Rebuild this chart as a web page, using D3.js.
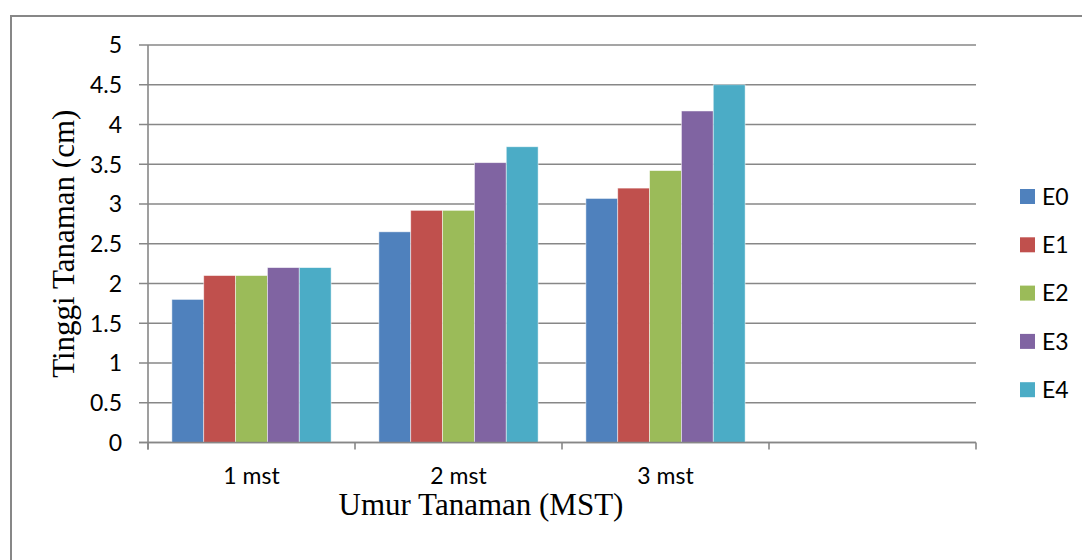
<!DOCTYPE html>
<html>
<head>
<meta charset="utf-8">
<script src="https://cdn.jsdelivr.net/npm/d3@7"></script>
<style>
  html, body { margin: 0; padding: 0; background: #fff; }
  svg { display: block; }
</style>
</head>
<body>
<svg id="chart" width="1082" height="560"></svg>
<script>
const categories = ["1 mst", "2 mst", "3 mst", ""];
const seriesNames = ["E0", "E1", "E2", "E3", "E4"];
const E0 = [1.8, 2.65, 3.07];
const E1 = [2.1, 2.92, 3.2];
const E2 = [2.1, 2.92, 3.42];
const E3 = [2.2, 3.52, 4.17];
const E4 = [2.2, 3.72, 4.5];
const yTicks = [0, 0.5, 1, 1.5, 2, 2.5, 3, 3.5, 4, 4.5, 5];
const colors = ["#4F81BD", "#C0504D", "#9BBB59", "#8064A2", "#4BACC6"];
const yTitle = "Tinggi Tanaman (cm)";
const xTitle = "Umur Tanaman (MST)";

(function () {
const seriesValues = [E0, E1, E2, E3, E4];
const svg = d3.select("#chart");
const grid = "#878787";

// outer frame
svg.append("rect").attr("x", 11).attr("y", 16).attr("width", 1200).attr("height", 700)
  .attr("fill", "none").attr("stroke", grid).attr("stroke-width", 2);

const pLeft = 148, pRight = 976, pTop = 45, pBottom = 442.5;
const x = d3.scaleBand().domain(d3.range(categories.length)).range([pLeft, pRight]).paddingInner(0).paddingOuter(0);
const x1 = d3.scaleBand().domain(seriesNames).range([0, x.bandwidth()]).paddingOuter(0.75).paddingInner(0);
const y = d3.scaleLinear().domain([0, 5]).range([pBottom, pTop]);

// gridlines
svg.append("g").selectAll("line").data(yTicks).join("line")
  .attr("x1", pLeft - 9).attr("x2", pRight)
  .attr("y1", d => y(d)).attr("y2", d => y(d))
  .attr("stroke", grid).attr("stroke-width", 1.6);

// y tick labels
svg.append("g").selectAll("text").data(yTicks).join("text")
  .attr("x", pLeft - 26).attr("y", d => y(d)).attr("dy", "0.36em")
  .attr("text-anchor", "end")
  .attr("font-family", "Lato, 'Open Sans', sans-serif").attr("font-size", 23)
  .attr("fill", "#000").text(d => d3.format("")(d));

// bars
const data = [];
seriesValues.forEach((vals, si) => vals.forEach((v, ci) => data.push({ s: seriesNames[si], si, ci, v })));
svg.append("g").selectAll("rect").data(data).join("rect")
  .attr("x", d => x(d.ci) + x1(d.s))
  .attr("width", x1.bandwidth())
  .attr("y", d => y(d.v))
  .attr("height", d => y(0) - y(d.v))
  .attr("fill", d => colors[d.si])
  .attr("stroke", "rgba(255,255,255,0.6)").attr("stroke-width", 0.8);

// axes lines
svg.append("line").attr("x1", pLeft).attr("x2", pLeft).attr("y1", pTop).attr("y2", pBottom + 7)
  .attr("stroke", grid).attr("stroke-width", 1.6);
svg.append("line").attr("x1", pLeft - 9).attr("x2", pRight).attr("y1", pBottom).attr("y2", pBottom)
  .attr("stroke", grid).attr("stroke-width", 1.6);
// category ticks
const tickPos = d3.range(categories.length + 1).map(i => i < categories.length ? x(i) : pRight);
svg.append("g").selectAll("line").data(tickPos).join("line")
  .attr("x1", d => d).attr("x2", d => d).attr("y1", pBottom).attr("y2", pBottom + 7)
  .attr("stroke", grid).attr("stroke-width", 1.6);

// category labels
svg.append("g").selectAll("text").data(categories).join("text")
  .attr("x", (d, i) => x(i) + x.bandwidth() / 2).attr("y", 484)
  .attr("text-anchor", "middle")
  .attr("font-family", "Lato, 'Open Sans', sans-serif").attr("font-size", 23)
  .attr("fill", "#000").text(d => d);

// axis titles
svg.append("text").attr("x", 481).attr("y", 515).attr("text-anchor", "middle")
  .attr("font-family", "'Liberation Serif', 'Times New Roman', serif").attr("font-size", 31)
  .attr("fill", "#000").text(xTitle);
svg.append("text").attr("transform", `translate(74,${(pTop + pBottom) / 2}) rotate(-90)`)
  .attr("text-anchor", "middle")
  .attr("font-family", "'Liberation Serif', 'Times New Roman', serif").attr("font-size", 31)
  .attr("fill", "#000").text(yTitle);

// legend
const lg = svg.append("g").selectAll("g").data(seriesNames).join("g")
  .attr("transform", (d, i) => `translate(1020,${196.5 + i * 48.3})`);
lg.append("rect").attr("x", 0).attr("y", -7.5).attr("width", 15).attr("height", 15)
  .attr("fill", (d, i) => colors[i]);
lg.append("text").attr("x", 22).attr("y", 0).attr("dy", "0.36em")
  .attr("font-family", "Lato, 'Open Sans', sans-serif").attr("font-size", 23)
  .attr("fill", "#000").text(d => d);
})();
</script>
</body>
</html>
